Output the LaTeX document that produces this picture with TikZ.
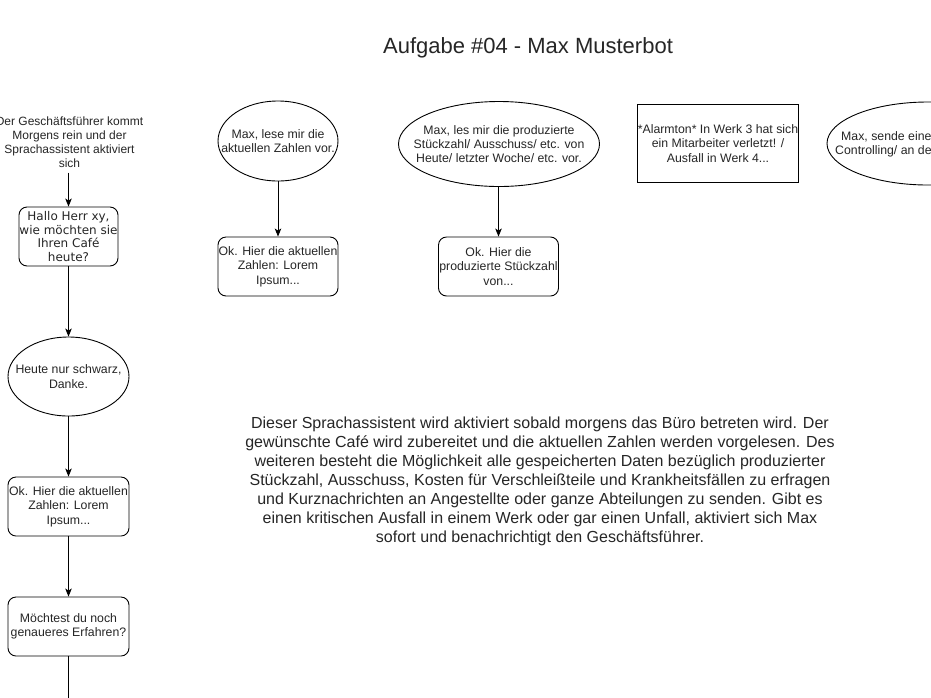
\documentclass[tikz,border=0pt]{standalone}
\usepackage{fontspec}
\setmainfont{Liberation Sans}
\newfontfamily\dejavu{DejaVu Sans}
\usetikzlibrary{shapes.geometric,arrows.meta}
\begin{document}
\begin{tikzpicture}[x=1pt,y=-1pt,
  every node/.style={font=\fontsize{12.3}{14.4}\selectfont, align=center, inner sep=0pt, text=black!85},
  rbox/.style={draw=black, rounded corners=8pt, line width=0.9pt},
  ell/.style={draw=black, ellipse, line width=0.9pt},
  sq/.style={draw=black, rectangle, line width=0.9pt},
  conn/.style={line width=0.9pt, -{Stealth[length=8pt,width=6.5pt,inset=2pt]}}]
\useasboundingbox (0,0) rectangle (931,697);
\clip (0,0) rectangle (931,697);
\fill[white] (0,0) rectangle (931,697);

% title
\node[font=\fontsize{22}{26}\selectfont] (title) at (528,47.5) {Aufgabe \#04 - Max Musterbot};

% left column
\node[inner ysep=5pt, font=\fontsize{12}{14}\selectfont] (t0) at (69.5,142) {Der Geschäftsführer kommt\\Morgens rein und der\\Sprachassistent aktiviert\\sich};
\node[rbox, minimum width=99pt, minimum height=59pt, font=\dejavu\fontsize{12}{13.6}\selectfont] (hallo) at (68.5,236.5) {Hallo Herr xy,\\wie möchten sie\\Ihren Café\\heute?};
\node[ell, minimum width=121pt, minimum height=79pt] (heute) at (68.5,376.5) {};
\node (heutet) at (heute) {Heute nur schwarz,\\Danke.};
\node[rbox, minimum width=121pt, minimum height=59pt] (ok1) at (68.5,506.5) {Ok. Hier die aktuellen\\Zahlen: Lorem\\Ipsum...};
\node[rbox, minimum width=121pt, minimum height=59pt] (moecht) at (68.5,626.5) {Möchtest du noch\\genaueres Erfahren?};
\coordinate (bot) at (68.5,705);

\draw[conn] (t0.south -| hallo.north) -- (hallo.north);
\draw[conn] (hallo) -- (heute);
\draw[conn] (heute) -- (ok1);
\draw[conn] (ok1) -- (moecht);
\draw[line width=0.9pt] (moecht) -- (bot);

% column 2
\node[ell, minimum width=120pt, minimum height=80pt] (e2) at (278,141) {};
\node (e2t) at (e2) {Max, lese mir die\\aktuellen Zahlen vor.};
\node[rbox, minimum width=120pt, minimum height=59pt] (ok2) at (278,266.5) {Ok. Hier die aktuellen\\Zahlen: Lorem\\Ipsum...};
\draw[conn] (e2) -- (ok2);

% column 3
\node[ell, minimum width=201pt, minimum height=85pt] (e3) at (499,144) {};
\node (e3t) at (e3) {Max, les mir die produzierte\\Stückzahl/ Ausschuss/ etc. von\\Heute/ letzter Woche/ etc. vor.};
\node[rbox, minimum width=120pt, minimum height=59pt] (ok3) at (498.5,266.5) {Ok. Hier die\\produzierte Stückzahl\\von...};
\draw[conn] (e3.south -| ok3.north) -- (ok3.north);

% column 4
\node[sq, minimum width=160pt, minimum height=78pt] (alarm) at (718,143.5) {*Alarmton* In Werk 3 hat sich\\ein Mitarbeiter verletzt! /\\Ausfall in Werk 4...};

% column 5 (cut off at the right edge)
\node[ell, minimum width=202pt, minimum height=83pt] (e4) at (928,143.5) {};
\node[anchor=north west, align=left] (e4a) at (841,131) {Max, sende eine Nachricht};
\node[anchor=north west, align=left] (e4b) at (835,145) {Controlling/ an den};

% description
\node[font=\fontsize{16}{19}\selectfont] (desc) at (540,481) {Dieser Sprachassistent wird aktiviert sobald morgens das Büro betreten wird. Der\\gewünschte Café wird zubereitet und die aktuellen Zahlen werden vorgelesen. Des\\weiteren besteht die Möglichkeit alle gespeicherten Daten bezüglich produzierter\\Stückzahl, Ausschuss, Kosten für Verschleißteile und Krankheitsfällen zu erfragen\\und Kurznachrichten an Angestellte oder ganze Abteilungen zu senden. Gibt es\\einen kritischen Ausfall in einem Werk oder gar einen Unfall, aktiviert sich Max\\sofort und benachrichtigt den Geschäftsführer.};
\end{tikzpicture}
\end{document}
